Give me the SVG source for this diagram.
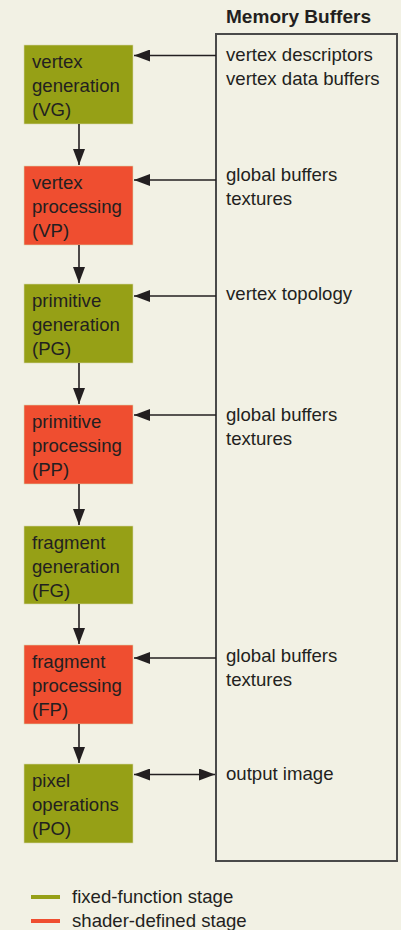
<svg xmlns="http://www.w3.org/2000/svg" width="401" height="930" viewBox="0 0 401 930">
<defs>
<style>
text{font-family:"Liberation Sans",Arial,sans-serif;font-size:18.6px;fill:#231f20}
.title{font-weight:bold;font-size:17.5px}
.fixed{fill:#96a016}
.shader{fill:#ef4e30}
.box{stroke:#d8d8b0;stroke-width:0.6}
.conn{stroke:#231f20;stroke-width:1.6;fill:none}
</style>
<marker id="ah" viewBox="0 0 16 12" refX="16" refY="6" markerWidth="16" markerHeight="12" markerUnits="userSpaceOnUse" orient="auto-start-reverse">
<path d="M0,0 L16,6 L0,12 Z" fill="#231f20"/>
</marker>
</defs>
<rect width="401" height="930" fill="#f2f1e4"/>
<g id="memory">
<text class="title" x="226" y="23" textLength="145" lengthAdjust="spacingAndGlyphs">Memory Buffers</text>
<rect x="216" y="34" width="181" height="827" fill="none" stroke="#4a4a4a" stroke-width="2"/>
<text x="226" y="61">vertex descriptors</text>
<text x="226" y="85">vertex data buffers</text>
<text x="226" y="181">global buffers</text>
<text x="226" y="205">textures</text>
<text x="226" y="300">vertex topology</text>
<text x="226" y="421">global buffers</text>
<text x="226" y="445">textures</text>
<text x="226" y="662">global buffers</text>
<text x="226" y="686">textures</text>
<text x="226" y="780">output image</text>
</g>
<g id="VG"><rect class="fixed box" x="24" y="45" width="109" height="79"/><text x="32" y="68">vertex</text><text x="32" y="92">generation</text><text x="32" y="116">(VG)</text></g>
<g id="VP"><rect class="shader box" x="24" y="166" width="109" height="79"/><text x="32" y="189">vertex</text><text x="32" y="213">processing</text><text x="32" y="237">(VP)</text></g>
<g id="PG"><rect class="fixed box" x="24" y="284" width="109" height="79"/><text x="32" y="307">primitive</text><text x="32" y="331">generation</text><text x="32" y="355">(PG)</text></g>
<g id="PP"><rect class="shader box" x="24" y="405" width="109" height="79"/><text x="32" y="428">primitive</text><text x="32" y="452">processing</text><text x="32" y="476">(PP)</text></g>
<g id="FG"><rect class="fixed box" x="24" y="526" width="109" height="78"/><text x="32" y="549">fragment</text><text x="32" y="573">generation</text><text x="32" y="597">(FG)</text></g>
<g id="FP"><rect class="shader box" x="24" y="645" width="109" height="79"/><text x="32" y="668">fragment</text><text x="32" y="692">processing</text><text x="32" y="716">(FP)</text></g>
<g id="PO"><rect class="fixed box" x="24" y="764" width="109" height="79"/><text x="32" y="787">pixel</text><text x="32" y="811">operations</text><text x="32" y="835">(PO)</text></g>
<g id="connectors">
<line class="conn" x1="79" y1="124" x2="79" y2="165" marker-end="url(#ah)"/>
<line class="conn" x1="79" y1="245" x2="79" y2="283" marker-end="url(#ah)"/>
<line class="conn" x1="79" y1="363" x2="79" y2="404" marker-end="url(#ah)"/>
<line class="conn" x1="79" y1="484" x2="79" y2="525" marker-end="url(#ah)"/>
<line class="conn" x1="79" y1="604" x2="79" y2="644" marker-end="url(#ah)"/>
<line class="conn" x1="79" y1="724" x2="79" y2="763" marker-end="url(#ah)"/>
<line class="conn" x1="216" y1="55.5" x2="134" y2="55.5" marker-end="url(#ah)"/>
<line class="conn" x1="216" y1="180" x2="134" y2="180" marker-end="url(#ah)"/>
<line class="conn" x1="216" y1="296" x2="134" y2="296" marker-end="url(#ah)"/>
<line class="conn" x1="216" y1="415" x2="134" y2="415" marker-end="url(#ah)"/>
<line class="conn" x1="216" y1="658" x2="134" y2="658" marker-end="url(#ah)"/>
<line class="conn" x1="134" y1="774.5" x2="215" y2="774.5" marker-start="url(#ah)" marker-end="url(#ah)"/>
</g>
<g id="legend">
<line x1="31" y1="897" x2="60" y2="897" stroke="#96a016" stroke-width="4"/>
<text x="72" y="903">fixed-function stage</text>
<line x1="31" y1="921" x2="60" y2="921" stroke="#ef4e30" stroke-width="4"/>
<text x="72" y="927">shader-defined stage</text>
</g>
</svg>
